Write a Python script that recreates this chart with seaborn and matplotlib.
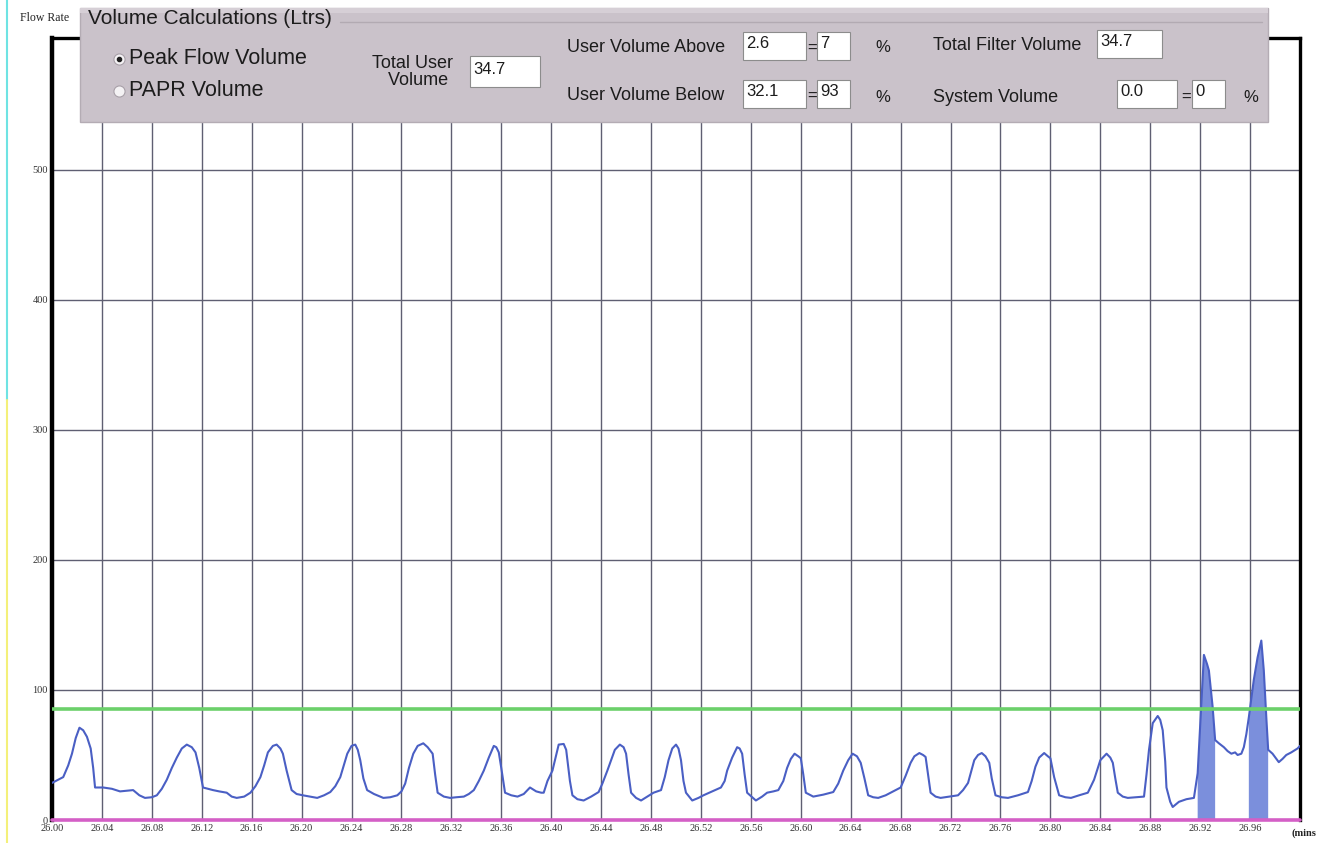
"""
Flow rate trace with the volume calculation panel on top
"""

import numpy as np
import pandas as pd
import matplotlib
matplotlib.use('Agg')
import matplotlib.pyplot as plt
from matplotlib.patches import Rectangle
from matplotlib.lines import Line2D
import seaborn as sns

# --- data ---
time_min = [
    26.000, 26.005, 26.009, 26.013, 26.016, 26.019, 26.022, 26.025, 26.028, 26.031,
    26.033, 26.0345, 26.041, 26.048, 26.0545, 26.060, 26.065, 26.070, 26.0745, 26.080,
    26.084, 26.088, 26.092, 26.096, 26.100, 26.104, 26.108, 26.112, 26.115, 26.118,
    26.121, 26.125, 26.129, 26.134, 26.140, 26.144, 26.148, 26.154, 26.159, 26.163,
    26.167, 26.170, 26.173, 26.177, 26.180, 26.183, 26.185, 26.188, 26.192, 26.196,
    26.201, 26.207, 26.2125, 26.218, 26.223, 26.227, 26.231, 26.2366, 26.240, 26.243,
    26.245, 26.247, 26.2495, 26.2525, 26.258, 26.2655, 26.271, 26.2767, 26.280, 26.283,
    26.286, 26.2895, 26.293, 26.2975, 26.301, 26.305, 26.307, 26.309, 26.314, 26.319,
    26.324, 26.330, 26.334, 26.338, 26.342, 26.346, 26.350, 26.354, 26.356, 26.358,
    26.360, 26.363, 26.368, 26.373, 26.378, 26.383, 26.388, 26.392, 26.394, 26.397,
    26.401, 26.404, 26.406, 26.410, 26.412, 26.413, 26.415, 26.417, 26.421, 26.426,
    26.432, 26.438, 26.441, 26.445, 26.448, 26.451, 26.455, 26.458, 26.460, 26.462,
    26.464, 26.468, 26.472, 26.477, 26.482, 26.488, 26.491, 26.494, 26.497, 26.500,
    26.502, 26.504, 26.506, 26.508, 26.513, 26.518, 26.522, 26.529, 26.536, 26.539,
    26.541, 26.545, 26.549, 26.551, 26.553, 26.555, 26.557, 26.564, 26.569, 26.573,
    26.578, 26.582, 26.586, 26.589, 26.592, 26.595, 26.598, 26.600, 26.602, 26.604,
    26.610, 26.618, 26.626, 26.630, 26.634, 26.638, 26.6415, 26.645, 26.648, 26.651,
    26.654, 26.658, 26.662, 26.668, 26.674, 26.680, 26.684, 26.688, 26.691, 26.695,
    26.698, 26.700, 26.702, 26.704, 26.708, 26.712, 26.719, 26.726, 26.730, 26.734,
    26.739, 26.742, 26.745, 26.748, 26.751, 26.753, 26.756, 26.761, 26.766, 26.774,
    26.782, 26.785, 26.788, 26.791, 26.795, 26.798, 26.800, 26.803, 26.807, 26.812,
    26.8165, 26.823, 26.830, 26.835, 26.840, 26.845, 26.848, 26.850, 26.852, 26.854,
    26.858, 26.862, 26.868, 26.875, 26.877, 26.879, 26.882, 26.886, 26.888, 26.890,
    26.892, 26.893, 26.896, 26.898, 26.903, 26.909, 26.915, 26.918, 26.921, 26.923,
    26.9255, 26.927, 26.930, 26.932, 26.935, 26.939, 26.942, 26.945, 26.948, 26.950,
    26.953, 26.955, 26.957, 26.959, 26.963, 26.966, 26.969, 26.971, 26.973, 26.9745,
    26.978, 26.983, 26.986, 26.989, 26.993, 26.998, 27.000,
]
flow_rate = [
    28.5, 31, 33, 42, 51, 63, 71, 69, 64, 55,
    40, 25, 25, 24, 22, 22.5, 23, 19, 17, 17.5,
    19, 24, 31, 40, 48, 55, 58, 56, 52, 40,
    25, 24, 23, 22, 21, 18, 17, 18, 21, 26,
    33, 42, 52, 57, 58, 55, 51, 38, 23, 20,
    19, 18, 17, 19, 21.5, 26, 33, 51, 57, 58,
    54, 46, 32, 23, 20, 17, 17.5, 19, 22, 28,
    40, 51, 57, 59, 56, 51, 35, 21, 18, 17,
    17.5, 18, 20, 23, 30, 38, 48, 57, 56, 52,
    40, 21, 19, 18, 20, 25, 22, 21, 21, 30,
    38, 50, 58, 58.5, 54, 46, 30, 19, 16, 15,
    18, 21.5, 28, 38, 46, 54, 58, 56, 51, 35,
    21, 17, 15, 18, 21, 23, 33, 46, 55, 58,
    55, 46, 30, 21, 15, 17, 19, 22, 25, 30,
    38, 48, 56, 55, 51, 35, 21, 15, 18, 21,
    22, 23, 30, 40, 47, 51, 49, 47.5, 35, 21,
    18, 19.5, 21.5, 28, 38, 46, 51, 49, 44, 32,
    19, 17.5, 17, 19, 22, 25, 34, 44, 49, 51.5,
    50, 48.5, 35, 21, 18, 17, 18, 19, 23, 28.5,
    46, 50, 51.5, 49, 44, 32, 19, 17.5, 17, 19,
    21.5, 30, 41, 48, 51.5, 49, 47.5, 33, 19, 17.5,
    17, 19, 21, 31, 46, 51, 48, 44, 32, 21,
    18, 17, 17.5, 18, 35, 54, 74.5, 80, 77, 69,
    45, 25, 14, 10, 14, 16, 17, 36, 90, 127,
    120, 115, 87, 61.5, 59, 56, 53, 51, 52, 50,
    51, 56, 66, 79, 108, 125, 138, 115, 79, 54,
    51, 44.5, 47, 50, 52, 55, 57,
]
threshold = 85                       # green limit line
shade_spans = [(26.918, 26.932), (26.959, 26.9745)]   # volume above the limit

x_ticks = [26.00 + 0.04 * i for i in range(25)]
y_ticks = [0, 100, 200, 300, 400, 500]

# panel readings
total_user_volume = '34.7'
user_above, user_above_pct = '2.6', '7'
user_below, user_below_pct = '32.1', '93'
total_filter_volume = '34.7'
system_volume, system_pct = '0.0', '0'

df = pd.DataFrame({'t': time_min, 'flow': flow_rate})

W, H = 1319, 843
sns.set_style('white')
plt.rcParams['font.family'] = ['Liberation Sans', 'DejaVu Sans']

fig = plt.figure(figsize=(W / 100, H / 100), dpi=100)
ax = fig.add_axes([52 / W, 1 - 820 / H, 1248 / W, 782 / H])

sns.lineplot(data=df, x='t', y='flow', ax=ax, color='#4a5fc4', lw=1.5, zorder=4)

mask = np.zeros(len(df), dtype=bool)
for a, b in shade_spans:
    mask |= (df['t'] >= a) & (df['t'] <= b)
ax.fill_between(df['t'], 0, df['flow'], where=mask, color='#7b8fdc', lw=0, zorder=3)

ax.axhline(threshold, color='#6cd06a', lw=2.6, zorder=5)
ax.axhline(0, color='#d45fc6', lw=2.6, zorder=6, clip_on=False)

ax.set_xlim(26.0, 27.0)
ax.set_ylim(0, 601.5)
ax.set_xticks(x_ticks)
ax.set_xticklabels([f'{v:.2f}' for v in x_ticks])
ax.set_yticks(y_ticks)
ax.grid(True, color='#5f5f72', lw=1.0, zorder=1)
ax.set_xlabel('')
ax.set_ylabel('')
ax.tick_params(length=0, labelsize=7.5, pad=3, labelcolor='#333333')
for lab in ax.get_xticklabels() + ax.get_yticklabels():
    lab.set_fontfamily('Liberation Serif')
for side, lw in [('left', 3.2), ('top', 2.4), ('right', 2.4)]:
    ax.spines[side].set_color('black')
    ax.spines[side].set_linewidth(lw)
ax.spines['bottom'].set_visible(False)

# overlay in pixel coordinates for the panel and labels
ov = fig.add_axes([0, 0, 1, 1], zorder=10)
ov.set_xlim(0, W)
ov.set_ylim(H, 0)
ov.axis('off')
ov.patch.set_alpha(0)

# scan artefacts on the left edge
ov.add_line(Line2D([7, 7], [0, 400], color='#6fe3e3', lw=1.5))
ov.add_line(Line2D([7, 7], [400, H], color='#f4f07a', lw=1.5))

serif = dict(family='Liberation Serif', color='#222222')
ov.text(20, 18, 'Flow Rate', ha='left', va='center', fontsize=8.5, **serif)
ov.text(1316, 833, '(mins', ha='right', va='center', fontsize=7.5, fontweight='bold', **serif)

# panel
ov.add_patch(Rectangle((80, 8), 1188, 114, facecolor='#cac2ca', edgecolor='#b4acb4', lw=1.0, zorder=2))
ov.add_patch(Rectangle((80, 8), 1188, 5, facecolor='#d6cfd6', lw=0, zorder=2))
ov.add_line(Line2D([340, 1262], [22, 22], color='#b2aab2', lw=1.0, zorder=3))

txt = dict(color='#1c1c1c', zorder=5)
ov.text(88, 19, 'Volume Calculations (Ltrs)', fontsize=15, ha='left', va='center', **txt)

ov.plot([119], [59], 'o', ms=8, mfc='#f4f2f4', mec='#a8a0a8', mew=0.8, zorder=5)
ov.plot([119], [59], 'o', ms=3, color='#202020', zorder=6)
ov.plot([119], [91], 'o', ms=8, mfc='#f4f2f4', mec='#a8a0a8', mew=0.8, zorder=5)
ov.text(129, 59, 'Peak Flow Volume', fontsize=15.5, ha='left', va='center', **txt)
ov.text(129, 91, 'PAPR Volume', fontsize=15.5, ha='left', va='center', **txt)

ov.text(413, 72, 'Total User\n  Volume', fontsize=13, ha='center', va='center',
        linespacing=1.0, **txt)


def entry(x0, y0, w, h, value):
    ov.add_patch(Rectangle((x0, y0), w, h, facecolor='white', edgecolor='#8c8c8c', lw=0.8, zorder=4))
    ov.text(x0 + 3, y0 + h * 0.42, value, fontsize=12, ha='left', va='center', **txt)


entry(470, 56, 70, 31, total_user_volume)

ov.text(567, 47, 'User Volume Above', fontsize=13, ha='left', va='center', **txt)
entry(743, 32, 63, 28, user_above)
ov.text(812, 48, '=', fontsize=12, ha='center', va='center', **txt)
entry(817, 32, 33, 28, user_above_pct)
ov.text(883, 48, '%', fontsize=12, ha='center', va='center', **txt)

ov.text(567, 96, 'User Volume Below', fontsize=13, ha='left', va='center', **txt)
entry(743, 80, 63, 28, user_below)
ov.text(812, 96, '=', fontsize=12, ha='center', va='center', **txt)
entry(817, 80, 33, 28, user_below_pct)
ov.text(883, 97, '%', fontsize=12, ha='center', va='center', **txt)

ov.text(933, 46, 'Total Filter Volume', fontsize=13, ha='left', va='center', **txt)
entry(1097, 30, 65, 28, total_filter_volume)

ov.text(933, 97, 'System Volume', fontsize=13, ha='left', va='center', **txt)
entry(1117, 80, 60, 28, system_volume)
ov.text(1186, 97, '=', fontsize=12, ha='center', va='center', **txt)
entry(1192, 80, 33, 28, system_pct)
ov.text(1251, 98, '%', fontsize=12, ha='center', va='center', **txt)

fig.savefig('out.png', dpi=100)
